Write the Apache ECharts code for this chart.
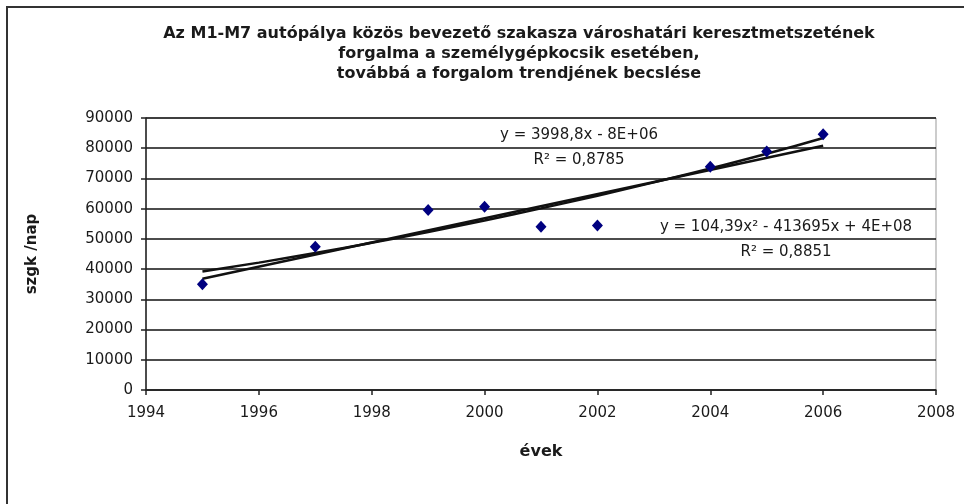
<!DOCTYPE html>
<html>
<head>
<meta charset="utf-8">
<script src="https://cdn.jsdelivr.net/npm/echarts@6/dist/echarts.min.js"></script>
<style>
  html, body { margin: 0; padding: 0; background: #fff; }
  #main { width: 964px; height: 504px; }
</style>
</head>
<body>
<div id="main"></div>
<script>
var myChart = echarts.init(document.getElementById('main'));

// measured traffic (passenger cars / day)
var years = [1995, 1997, 1999, 2000, 2001, 2002, 2004, 2005, 2006];
var traffic = [35000, 47400, 59600, 60600, 54000, 54400, 73900, 78900, 84600];

// trend lines
var linYears = [1995, 2006];
var linValues = [36800, 80800];
var polyYears = [1995, 1996, 1997, 1998, 1999, 2000, 2001, 2002, 2003, 2004, 2005, 2006];
var polyValues = [39200, 42150, 45300, 48700, 52300, 56100, 60100, 64300, 68700, 73300, 78150, 83400];

var titleText = 'Az M1-M7 autópálya közös bevezető szakasza városhatári keresztmetszetének\n' +
  'forgalma a személygépkocsik esetében,\n' +
  'továbbá a forgalom trendjének becslése';

var font = 'DejaVu Sans, sans-serif';

var option = {
  animation: false,
  textStyle: { fontFamily: font },
  grid: {
    left: 146, right: 28, top: 118, bottom: 114,
    show: true, borderColor: '#999', borderWidth: 1
  },
  graphic: [
    {
      type: 'rect',
      shape: { x: 7, y: 7, width: 1000, height: 600 },
      style: { fill: 'none', stroke: '#333', lineWidth: 2 }
    },
    {
      type: 'text', x: 519, y: 54,
      style: {
        text: titleText, textAlign: 'center', textVerticalAlign: 'middle',
        font: 'bold 16px ' + font, lineHeight: 20, fill: '#1a1a1a'
      }
    },
    {
      type: 'text', x: 579, y: 135,
      style: { text: 'y = 3998,8x - 8E+06', textAlign: 'center', textVerticalAlign: 'middle',
        font: '15px ' + font, fill: '#1a1a1a' }
    },
    {
      type: 'text', x: 579, y: 160,
      style: { text: 'R² = 0,8785', textAlign: 'center', textVerticalAlign: 'middle',
        font: '15px ' + font, fill: '#1a1a1a' }
    },
    {
      type: 'text', x: 786, y: 227,
      style: { text: 'y = 104,39x² - 413695x + 4E+08', textAlign: 'center', textVerticalAlign: 'middle',
        font: '15px ' + font, fill: '#1a1a1a' }
    },
    {
      type: 'text', x: 786, y: 252,
      style: { text: 'R² = 0,8851', textAlign: 'center', textVerticalAlign: 'middle',
        font: '15px ' + font, fill: '#1a1a1a' }
    }
  ],
  xAxis: {
    type: 'value',
    min: 1994, max: 2008, interval: 2,
    name: 'évek', nameLocation: 'middle', nameGap: 54,
    nameTextStyle: { fontWeight: 'bold', fontSize: 16, color: '#1a1a1a' },
    axisLine: { lineStyle: { color: '#222', width: 1.5 } },
    axisTick: { show: true, inside: false, length: 5, lineStyle: { color: '#222', width: 1.5 } },
    axisLabel: { fontSize: 15, color: '#1a1a1a', margin: 16, formatter: function (v) { return String(v); } },
    splitLine: { show: false }
  },
  yAxis: {
    type: 'value',
    min: 0, max: 90000, interval: 10000,
    name: 'szgk /nap', nameLocation: 'middle', nameGap: 106,
    nameTextStyle: { fontWeight: 'bold', fontSize: 15, color: '#1a1a1a' },
    axisLine: { show: true, lineStyle: { color: '#222', width: 1.5 } },
    axisTick: { show: true, inside: false, length: 5, lineStyle: { color: '#222', width: 1.5 } },
    axisLabel: { fontSize: 15, color: '#1a1a1a', margin: 13, formatter: function (v) { return String(v); } },
    splitLine: { show: true, lineStyle: { color: '#111', width: 1.5 } }
  },
  series: [
    {
      name: 'lineáris trend',
      type: 'line',
      data: linYears.map(function (y, i) { return [y, linValues[i]]; }),
      showSymbol: false,
      lineStyle: { color: '#111', width: 2.5 },
      z: 3
    },
    {
      name: 'polinomiális trend',
      type: 'line',
      smooth: true,
      data: polyYears.map(function (y, i) { return [y, polyValues[i]]; }),
      showSymbol: false,
      lineStyle: { color: '#111', width: 2.5 },
      z: 3
    },
    {
      name: 'forgalom',
      type: 'scatter',
      symbol: 'diamond',
      symbolSize: [11, 12],
      data: years.map(function (y, i) { return [y, traffic[i]]; }),
      itemStyle: { color: '#000080', opacity: 1 },
      z: 4
    }
  ]
};

myChart.setOption(option);
</script>
</body>
</html>
